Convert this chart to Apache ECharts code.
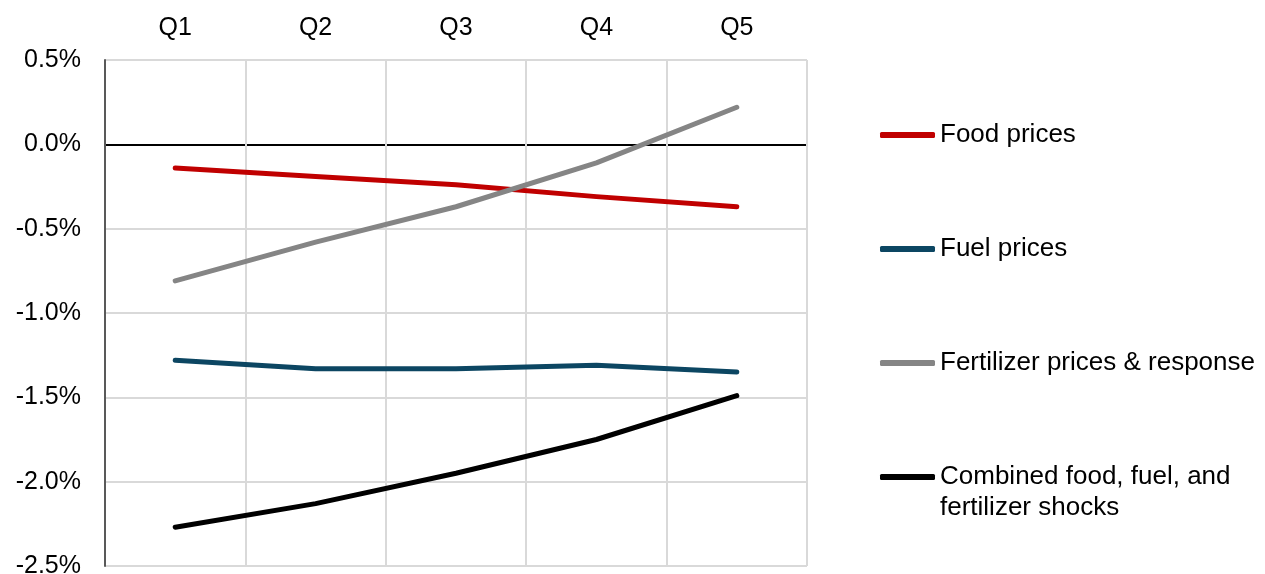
<!DOCTYPE html>
<html>
<head>
<meta charset="utf-8">
<script src="https://cdn.jsdelivr.net/npm/echarts@6/dist/echarts.min.js"></script>
<style>
  html, body { margin: 0; padding: 0; background: #fff; }
  #chart { width: 1265px; height: 574px; }
</style>
</head>
<body>
<div id="chart"></div>
<script>
// quintiles along the top axis
const quintiles = ["Q1", "Q2", "Q3", "Q4", "Q5"];

// change in welfare, percent
const foodPrices = [-0.14, -0.19, -0.24, -0.31, -0.37];
const fuelPrices = [-1.28, -1.33, -1.33, -1.31, -1.35];
const fertilizerPrices = [-0.81, -0.58, -0.37, -0.11, 0.22];
const combinedShocks = [-2.27, -2.13, -1.95, -1.75, -1.49];

const seriesNames = [
  "Food prices",
  "Fuel prices",
  "Fertilizer prices & response",
  "Combined food, fuel, and\nfertilizer shocks"
];
const seriesColors = ["#c00000", "#0c4662", "#858585", "#000000"];
const seriesData = [foodPrices, fuelPrices, fertilizerPrices, combinedShocks];

const chart = echarts.init(document.getElementById("chart"));

const fontFamily = "'Liberation Sans', Arial, sans-serif";

// one legend per entry so each can sit where the original puts it
const legendCenters = [135, 249, 363];
const legends = legendCenters.map((c, i) => ({
  left: 880,
  top: c - 15,
  padding: 0,
  icon: "roundRect",
  itemWidth: 55,
  itemHeight: 6,
  data: [seriesNames[i]],
  textStyle: { fontFamily, fontSize: 26, color: "#000", lineHeight: 30 }
}));
// blank first line keeps the icon level with the first text line
legends.push({
  left: 880,
  top: 477 - 46.5,
  padding: 0,
  icon: "roundRect",
  itemWidth: 55,
  itemHeight: 6,
  data: [seriesNames[3]],
  formatter: name => " \n" + name,
  textStyle: { fontFamily, fontSize: 26, color: "#000", lineHeight: 31 }
});

chart.setOption({
  animation: false,
  grid: {
    left: 105, right: 458, top: 60, bottom: 8,
    outerBoundsMode: "none",
    show: true, borderColor: "#d9d9d9", borderWidth: 1
  },
  legend: legends,
  xAxis: {
    type: "category",
    position: "top",
    data: quintiles,
    boundaryGap: true,
    axisLine: { show: false },
    axisTick: { show: false },
    axisLabel: { fontFamily, fontSize: 25, color: "#000", margin: 19 },
    splitLine: { show: true, lineStyle: { color: "#d9d9d9", width: 2 } }
  },
  yAxis: {
    type: "value",
    min: -2.5,
    max: 0.5,
    interval: 0.5,
    axisLine: { show: true, onZero: false, lineStyle: { color: "#595959", width: 2 } },
    axisTick: { show: false },
    axisLabel: {
      fontFamily, fontSize: 25, color: "#000", margin: 24,
      formatter: v => v.toFixed(1) + "%"
    },
    splitLine: {
      lineStyle: {
        width: 2,
        color: ["#d9d9d9", "#d9d9d9", "#d9d9d9", "#d9d9d9", "#d9d9d9", "#000000", "#d9d9d9"]
      }
    }
  },
  series: seriesData.map((d, i) => ({
    name: seriesNames[i],
    type: "line",
    data: d,
    symbol: "none",
    color: seriesColors[i],
    lineStyle: { width: 5, cap: "round", join: "round" }
  }))
});
</script>
</body>
</html>
